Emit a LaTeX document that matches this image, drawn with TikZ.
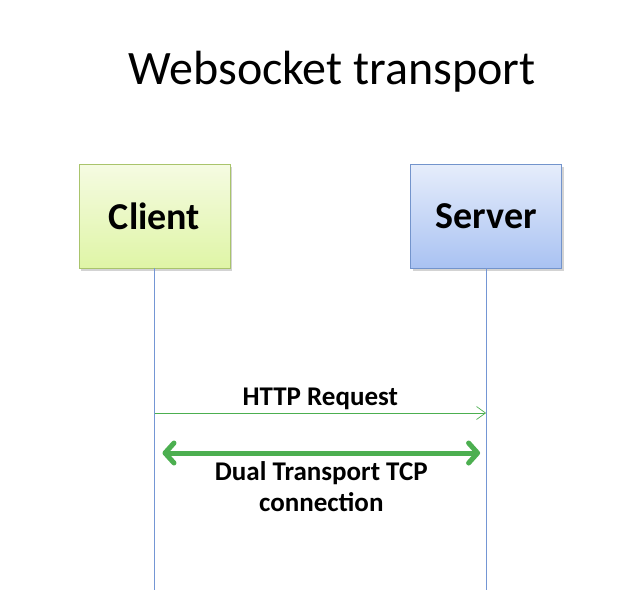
\documentclass[tikz,border=0pt]{standalone}
\usepackage{fontspec}
\setmainfont{Carlito}
\usetikzlibrary{arrows.meta,positioning,shadows,calc}

\definecolor{clientTop}{HTML}{F5FBE2}
\definecolor{clientBot}{HTML}{DFF5A6}
\definecolor{clientLine}{HTML}{A9C46C}
\definecolor{serverTop}{HTML}{E6EDFB}
\definecolor{serverBot}{HTML}{A9C2F2}
\definecolor{serverLine}{HTML}{7394CC}
\definecolor{lifeBlue}{HTML}{7496D4}
\definecolor{msgGreen}{HTML}{4CAF50}

\begin{document}
\begin{tikzpicture}[x=1pt,y=1pt,node distance=180pt,semithick]

            \tikzstyle{actor}=[rectangle,minimum width=151pt,minimum height=104pt,inner sep=0pt,
                               font=\fontsize{38}{44}\selectfont\bfseries,drop shadow={opacity=0.35,shadow xshift=2pt,shadow yshift=-3pt}]
            \tikzstyle{lifeline}=[draw=lifeBlue,line width=0.8pt]
            \tikzstyle{request}=[draw=msgGreen,line width=0.7pt,-{Straight Barb[length=9pt,width=13pt]}]
            \tikzstyle{duplex}=[draw=msgGreen,line width=5pt,line cap=round,
                                {Straight Barb[round,length=9pt,width=20pt]}-{Straight Barb[round,length=9pt,width=20pt]}]
            \tikzstyle{label}=[font=\fontsize{27}{31}\selectfont\bfseries,align=center,text=black,inner sep=0pt]

            \useasboundingbox (0,0) rectangle (634,-590);

            \node (title) at (332,-72) {\fontsize{48}{56}\selectfont Websocket transport};

            \node[actor,draw=clientLine,top color=clientTop,bottom color=clientBot] (client) at (154.5,-216) {Client};
            \node[actor,draw=serverLine,top color=serverTop,bottom color=serverBot,right=180pt of client] (server) {Server};

            % lifelines
            \coordinate (clientEnd) at (client.south |- 0,-590);
            \coordinate (serverEnd) at (server.south |- 0,-590);
            \draw[lifeline] (client.south) -- (clientEnd);
            \draw[lifeline] (server.south) -- (serverEnd);

            % messages
            \coordinate (httpL) at (client.south |- 0,-413);
            \coordinate (httpR) at (server.south |- 0,-413);
            \coordinate (tcpL) at ($(client.south |- 0,-453)+(8,0)$);
            \coordinate (tcpR) at ($(server.south |- 0,-453)+(-6,0)$);

            \draw[request] (httpL) -- node[label,above=3pt] {HTTP Request} (httpR);
            \draw[duplex]  (tcpL) -- node[label,below=6pt] {Dual Transport TCP\\connection} (tcpR);
        \end{tikzpicture}
\end{document}
